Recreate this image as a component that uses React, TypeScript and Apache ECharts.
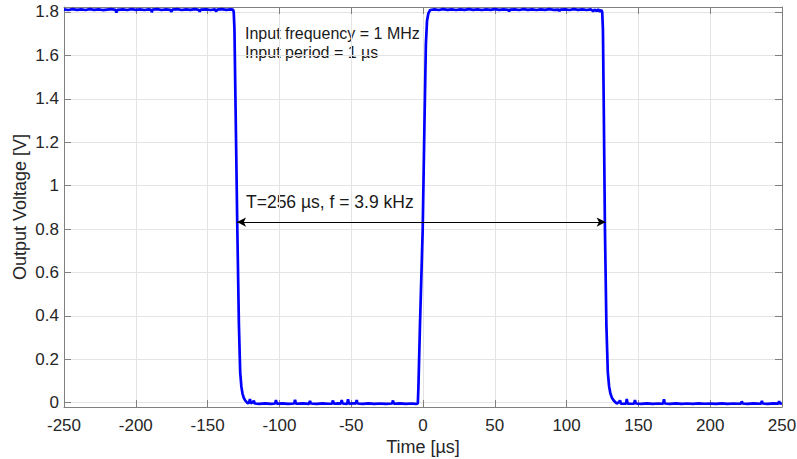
import React, { useEffect, useRef } from "react";
import * as echarts from "echarts";

// Time [µs], Output Voltage [V]
const high1: [number, number][] = [
  [-250, 1.812], [-247, 1.809], [-244, 1.813], [-241, 1.81], [-238, 1.812], [-235, 1.809],
  [-232, 1.813], [-229, 1.81], [-226, 1.812], [-223, 1.809], [-220, 1.811], [-217, 1.813],
  [-214.2, 1.81], [-213.5, 1.797], [-212.8, 1.81], [-209, 1.812], [-206, 1.809], [-203, 1.813],
  [-200, 1.81], [-197, 1.812], [-194, 1.809], [-191, 1.812], [-189.4, 1.81], [-188.9, 1.799],
  [-188.3, 1.811], [-185, 1.813], [-182, 1.809], [-179, 1.812], [-176, 1.81], [-175.2, 1.801],
  [-174.5, 1.811], [-171, 1.813], [-168, 1.809], [-165, 1.812], [-162, 1.81], [-159, 1.813],
  [-156.2, 1.81], [-155.5, 1.802], [-154.8, 1.811], [-151, 1.812], [-148, 1.809], [-145, 1.812],
  [-144, 1.803], [-143.3, 1.811], [-140, 1.813], [-137, 1.81], [-134, 1.812], [-132.3, 1.811],
];
const fall1: [number, number][] = [
  [-131.8, 1.8], [-131.3, 1.72], [-130.5, 1.35], [-129.3, 0.8], [-128.2, 0.36], [-127.3, 0.14],
  [-126.5, 0.075], [-125.7, 0.042], [-124.8, 0.022], [-123.8, 0.01], [-122.8, 0.002],
];
const low1: [number, number][] = [
  [-121.8, -0.004], [-121, 0.004], [-120.5, 0.017], [-120, -0.003], [-118.5, 0.002], [-117.8, 0.009],
  [-117.2, -0.004], [-114, -0.006], [-110, -0.003], [-106, -0.006], [-103, -0.004], [-102.4, 0.012],
  [-101.8, -0.005], [-98, -0.003], [-94, -0.006], [-89.7, -0.004], [-89.1, 0.013], [-88.5, -0.005],
  [-84, -0.003], [-79.3, -0.006], [-78.7, 0.008], [-78.1, -0.004], [-74, -0.006], [-70, -0.003],
  [-66, -0.005], [-63.3, -0.004], [-62.7, 0.01], [-62.1, -0.005], [-59, -0.003], [-57.2, -0.005],
  [-56.6, 0.012], [-56, -0.004], [-52.8, -0.006], [-52.2, 0.016], [-51.6, -0.004], [-48, -0.003],
  [-46.8, -0.005], [-46.2, 0.012], [-45.6, -0.004], [-42, -0.006], [-38, -0.003], [-34, -0.006],
  [-30, -0.004], [-26, -0.006], [-21.5, -0.004], [-20.9, 0.01], [-20.3, -0.005], [-16, -0.003],
  [-12, -0.006], [-8, -0.004], [-5, -0.006], [-3.6, -0.004],
];
const rise: [number, number][] = [
  [-3.2, 0.07], [-2.1, 0.36], [-0.2, 0.8], [1, 1.28], [2, 1.65], [2.8, 1.76], [3.8, 1.795], [5, 1.809],
];
const high2: [number, number][] = [
  [8, 1.812], [11, 1.809], [14, 1.813], [17, 1.81], [20, 1.812], [23, 1.809], [26, 1.812],
  [29, 1.81], [32, 1.813], [35, 1.81], [38, 1.812], [41, 1.809], [44, 1.812], [47, 1.81],
  [50, 1.813], [53, 1.81], [56, 1.812], [59.4, 1.81], [60, 1.803], [60.6, 1.811], [64, 1.812],
  [67, 1.809], [70, 1.813], [73, 1.81], [76, 1.812], [79, 1.809], [82, 1.812], [85, 1.81],
  [88, 1.813], [91, 1.81], [94.4, 1.811], [95, 1.804], [95.6, 1.811], [99, 1.812], [102, 1.809],
  [105, 1.813], [108, 1.81], [111, 1.812], [114, 1.809], [117, 1.812], [118.5, 1.803],
  [119.5, 1.811], [121, 1.804], [122, 1.812], [123.2, 1.802], [124.2, 1.809],
];
const fall2: [number, number][] = [
  [124.8, 1.8], [125.3, 1.72], [125.9, 1.35], [126.7, 0.8], [127.7, 0.36], [128.7, 0.14],
  [129.6, 0.075], [130.5, 0.042], [131.6, 0.022], [132.8, 0.01], [134, 0.002],
];
const low2: [number, number][] = [
  [135, -0.004], [136.5, 0.003], [137.2, 0.01], [137.8, -0.004], [141.3, -0.005], [141.9, 0.017],
  [142.5, -0.004], [147, -0.005], [147.6, 0.012], [148.2, -0.004], [152, -0.006], [156, -0.003],
  [160, -0.006], [164, -0.004], [167.2, -0.005], [167.8, 0.016], [168.4, -0.004], [172, -0.006],
  [176, -0.003], [180, -0.006], [184, -0.004], [188, -0.006], [192, -0.003], [196, -0.005],
  [200, -0.004], [204, -0.006], [208, -0.003], [212, -0.006], [216, -0.004], [221.4, -0.005],
  [222, 0.006], [222.6, -0.004], [226, -0.006], [230, -0.003], [235.4, -0.005], [236, 0.008],
  [236.6, -0.004], [240, -0.006], [244, -0.003], [247.4, -0.005], [248, 0.007], [248.6, -0.004],
  [250, -0.005],
];
const signal = [...high1, ...fall1, ...low1, ...rise, ...high2, ...fall2, ...low2];

const yTicks = [0, 0.2, 0.4, 0.6, 0.8, 1, 1.2, 1.4, 1.6, 1.8];
const periodArrow: [number, number][] = [[-129.5, 0.832], [127.2, 0.832]];
const noteLines = ["Input frequency = 1 MHz", "Input period = 1 µs"];
const periodLabel = "T=256 µs, f = 3.9 kHz";

const FONT = '"Liberation Sans", Arial, Helvetica, sans-serif';
const AXIS_LINE = "#808080";
const TEXT = "#262626";
const GRID = "#e4e4e4";

export default function App() {
  const ref = useRef<HTMLDivElement>(null);
  useEffect(() => {
    if (!ref.current) return;
    const chart = echarts.init(ref.current, undefined, { renderer: "svg" });
    const yCommon = {
      type: "value" as const,
      min: -0.02,
      max: 1.823,
      axisLine: { show: true, onZero: false, lineStyle: { color: AXIS_LINE, width: 1 } },
      axisTick: { show: true, inside: true, length: 7, customValues: yTicks, lineStyle: { color: AXIS_LINE } },
    };
    const xCommon = {
      type: "value" as const,
      min: -250,
      max: 250,
      interval: 50,
      axisLine: { show: true, onZero: false, lineStyle: { color: AXIS_LINE, width: 1 } },
      axisTick: { show: true, inside: true, length: 7, lineStyle: { color: AXIS_LINE } },
    };
    chart.setOption({
      animation: false,
      backgroundColor: "#ffffff",
      grid: { left: 64, right: 15, top: 7, bottom: 52, containLabel: false, outerBoundsMode: "none" },
      xAxis: [
        {
          ...xCommon,
          position: "bottom",
          name: "Time [µs]",
          nameLocation: "middle",
          nameGap: 31,
          nameMoveOverlap: false,
          nameTextStyle: { fontFamily: FONT, fontSize: 18, color: TEXT },
          axisLabel: { show: true, margin: 10, fontFamily: FONT, fontSize: 17, color: TEXT },
          splitLine: { show: true, lineStyle: { color: GRID, width: 1 } },
        },
        {
          ...xCommon,
          position: "top",
          axisLabel: { show: false },
          splitLine: { show: false },
        },
      ],
      yAxis: [
        {
          ...yCommon,
          position: "left",
          name: "Output Voltage [V]",
          nameLocation: "middle",
          nameGap: 35,
          nameMoveOverlap: false,
          nameTextStyle: { fontFamily: FONT, fontSize: 18, color: TEXT },
          axisLabel: { show: true, margin: 5, customValues: yTicks, fontFamily: FONT, fontSize: 17, color: TEXT },
          splitLine: { show: true, lineStyle: { color: GRID, width: 1 } },
        },
        {
          ...yCommon,
          position: "right",
          axisLabel: { show: false },
          splitLine: { show: false },
        },
      ],
      series: [
        {
          type: "line",
          data: signal,
          xAxisIndex: 0,
          yAxisIndex: 0,
          showSymbol: false,
          symbol: "none",
          lineStyle: { color: "#0000ff", width: 2.7 },
          itemStyle: { color: "#0000ff" },
          silent: true,
          markLine: {
            silent: true,
            symbol: ["arrow", "arrow"],
            symbolSize: [7, 9],
            label: { show: false },
            lineStyle: { color: "#000000", width: 1, type: "solid" },
            emphasis: { disabled: true },
            data: [[{ coord: periodArrow[0] }, { coord: periodArrow[1] }]],
          },
        },
      ],
      graphic: [
        {
          type: "text",
          left: 245,
          top: 25,
          style: { text: noteLines[0], fill: "#1a1a1a", font: `16px ${FONT}` },
        },
        {
          type: "text",
          left: 245,
          top: 44,
          style: { text: noteLines[1], fill: "#1a1a1a", font: `16px ${FONT}` },
        },
        {
          type: "text",
          left: 246,
          top: 193,
          style: { text: periodLabel, fill: "#1a1a1a", font: `17.5px ${FONT}` },
        },
      ],
    });
    return () => chart.dispose();
  }, []);
  return (
    <div
      ref={ref}
      style={{ position: "fixed", left: 0, top: 0, width: 797, height: 459, background: "#fff" }}
    />
  );
}
